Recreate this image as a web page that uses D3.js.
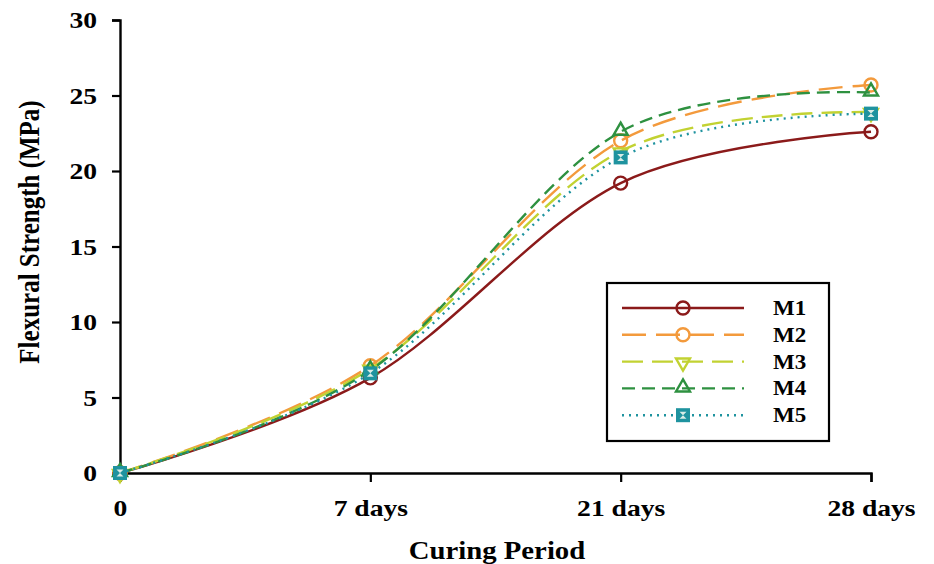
<!DOCTYPE html>
<html>
<head>
<meta charset="utf-8">
<script src="https://cdn.jsdelivr.net/npm/d3@7"></script>
<style>
  body { margin: 0; background: #fff; }
  svg text { font-family: "Liberation Serif", "Times New Roman", serif; font-weight: bold; fill: #000; }
</style>
</head>
<body>
<div id="chart"></div>
<script>
var periods = ["0", "7 days", "21 days", "28 days"];
var yTicks = [0, 5, 10, 15, 20, 25, 30];
var m1 = [0, 6.3, 19.2, 22.6];
var m2 = [0, 7.1, 22.0, 25.7];
var m3 = [0, 6.9, 21.3, 23.9];
var m4 = [0, 6.8, 22.6, 25.2];
var m5 = [0, 6.6, 20.9, 23.8];
var seriesNames = ["M1", "M2", "M3", "M4", "M5"];

var series = [
  { values: m1, color: "#8b1a1a", dash: null, marker: "circle" },
  { values: m2, color: "#f39a3c", dash: "24,10", marker: "circle" },
  { values: m3, color: "#c2d232", dash: "21,9", marker: "down" },
  { values: m4, color: "#2e9140", dash: "13,7", marker: "up" },
  { values: m5, color: "#1f939f", dash: "2,5", marker: "square" }
];

var width = 934, height = 564;
var margin = { left: 120, right: 63, top: 20, bottom: 91 };
var stretch = 1.15; // text in the picture is a bit wide

var svg = d3.select("#chart").append("svg")
  .attr("width", width).attr("height", height);

var x = d3.scalePoint().domain(periods).range([margin.left, width - margin.right]);
var y = d3.scaleLinear().domain([0, 30]).range([height - margin.bottom, margin.top]);

// axes
var yAxis = svg.append("g").attr("transform", "translate(" + margin.left + ",0)")
  .call(d3.axisLeft(y).tickValues(yTicks).tickSize(8).tickPadding(15));
var xAxis = svg.append("g").attr("transform", "translate(0," + y(0) + ")")
  .call(d3.axisBottom(x).tickSize(9).tickPadding(14));

[yAxis, xAxis].forEach(function(g){
  g.select(".domain").attr("stroke", "#000").attr("stroke-width", 2.4);
  g.selectAll(".tick line").attr("stroke", "#000").attr("stroke-width", 2.2);
  g.selectAll(".tick text").attr("fill", "#000").style("font-size", "24px")
    .style("font-family", "Liberation Serif").style("font-weight", "bold");
});
yAxis.selectAll(".tick text").attr("x", -23 / stretch).attr("transform", "scale(" + stretch + ",1)");
xAxis.selectAll(".tick text").attr("y", 43).attr("dy", 0).attr("transform", "scale(" + stretch + ",1)");
xAxis.selectAll(".tick").filter(function(d){ return d === "0"; }).select("line").remove();

svg.append("text")
  .attr("transform", "translate(39,232) rotate(-90) scale(1," + stretch + ")")
  .attr("text-anchor", "middle").style("font-size", "25px").text("Flexural Strength (MPa)");
svg.append("text")
  .attr("transform", "translate(497,559) scale(" + stretch + ",1)")
  .attr("text-anchor", "middle").style("font-size", "25px").text("Curing Period");

var line = d3.line()
  .x(function(d, i){ return x(periods[i]); })
  .y(function(d){ return y(d); })
  .curve(d3.curveCardinal.tension(0));

function drawMarker(g, type, cx, cy, color) {
  if (type === "circle") {
    g.append("circle").attr("cx", cx).attr("cy", cy).attr("r", 6.5)
      .attr("fill", "none").attr("stroke", color).attr("stroke-width", 2.4);
  } else if (type === "down") {
    g.append("path").attr("d", d3.symbol().type(d3.symbolTriangle).size(85)())
      .attr("transform", "translate(" + cx + "," + (cy + 1) + ") rotate(180)")
      .attr("fill", "none").attr("stroke", color).attr("stroke-width", 2.4);
  } else if (type === "up") {
    g.append("path").attr("d", d3.symbol().type(d3.symbolTriangle).size(85)())
      .attr("transform", "translate(" + cx + "," + (cy - 1) + ")")
      .attr("fill", "none").attr("stroke", color).attr("stroke-width", 2.4);
  } else {
    g.append("rect").attr("x", cx - 6).attr("y", cy - 6).attr("width", 12).attr("height", 12)
      .attr("fill", color).attr("stroke", color).attr("stroke-width", 2);
    g.append("path")
      .attr("d", "M" + (cx - 3.5) + "," + (cy - 3.5) + "h7l-3.5,3.5l3.5,3.5h-7l3.5,-3.5z")
      .attr("fill", "#d8ece6");
  }
}

series.forEach(function(s){
  var g = svg.append("g");
  g.append("path").attr("d", line(s.values))
    .attr("fill", "none").attr("stroke", s.color).attr("stroke-width", 2.4)
    .attr("stroke-dasharray", s.dash);
  s.values.forEach(function(v, i){
    drawMarker(g, s.marker, x(periods[i]), y(v), s.color);
  });
});

// legend
var lg = svg.append("g").attr("transform", "translate(607,283)");
lg.append("rect").attr("width", 222).attr("height", 158)
  .attr("fill", "#fff").attr("stroke", "#000").attr("stroke-width", 2.2);
series.forEach(function(s, i){
  var ly = 25 + i * 26.8;
  lg.append("line").attr("x1", 15).attr("x2", 137).attr("y1", ly).attr("y2", ly)
    .attr("stroke", s.color).attr("stroke-width", 2.4).attr("stroke-dasharray", s.dash);
  drawMarker(lg, s.marker, 76, ly, s.color);
  lg.append("text").attr("transform", "translate(166," + (ly + 7) + ") scale(" + stretch + ",1)")
    .style("font-size", "20px").text(seriesNames[i]);
});
</script>
</body>
</html>
